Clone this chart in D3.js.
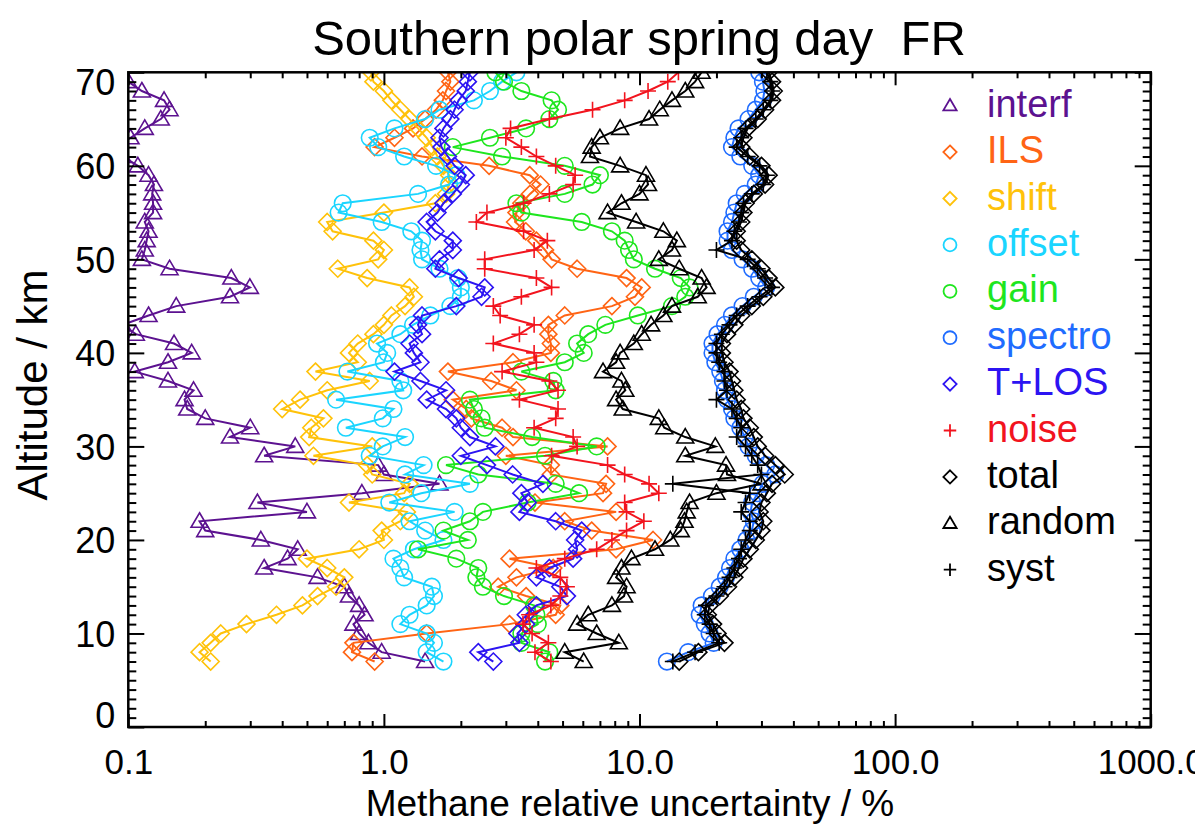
<!DOCTYPE html>
<html>
<head>
<meta charset="utf-8">
<script src="https://cdn.jsdelivr.net/npm/d3@7"></script>
<style>
  body { margin: 0; background: #fff; }
  svg { display: block; font-family: "Liberation Sans", Arial, Helvetica, sans-serif; }
</style>
</head>
<body>
<svg id="chart" width="1195" height="828"></svg>
<script>
// Altitude grid (km), bottom to top
const altitude = [7,8,9,10,11,12,13,14,15,16,17,18,19,20,21,22,23,24,25,26,27,28,29,30,31,32,33,34,35,36,37,38,39,40,41,42,43,44,45,46,47,48,49,50,51,52,53,54,55,56,57,58,59,60,61,62,63,64,65,66,67,68,69,70];

// Relative uncertainty (%) of each error component, one value per altitude
const interf = [1.45,0.98,0.87,0.8,0.76,0.84,0.8,0.73,0.70,0.55, 0.34,0.42,0.46,0.33,0.20,0.19,0.5,0.32,0.82,1.65, 1.0,0.95,0.34,0.45,0.25,0.3,0.2,0.17,0.166,0.18, 0.143,0.106,0.143,0.177,0.151,0.107,0.095,0.12,0.154,0.25, 0.299,0.253,0.145,0.113,0.116,0.118,0.12,0.116,0.125,0.125, 0.124,0.126,0.12,0.109,0.095,0.09,0.102,0.116,0.134,0.145, 0.138,0.113,0.1,0.088];
const ils = [0.92,0.75,0.76,1.47,3.1,4.7,4.9,3.6,2.8,3.3, 4.6,3.1,8.1,11.3,6.5,5.1,8.1,3.9,7.2,7.4, 4.5,4.5,3.0,7.5,3.2,2.9,2.2,2.1,1.86,3.3, 2.63,1.78,3.2,4.5,4.5,4.4,4.4,5.1,7.8,9.6, 10.2,8.9,5.7,4.53,4.27,3.95,3.59,3.26,3.3,3.45, 3.73,4.1,3.72,2.58,1.41,0.92,1.1,1.3,1.45,1.6, 1.7,1.75,1.82,1.78];
const shift = [0.21,0.19,0.21,0.23,0.29,0.38,0.48,0.55,0.65,0.7, 0.6,0.5,0.8,1.0,0.98,1.16,1.23,0.73,1.2,1.26, 0.9,0.86,0.53,0.9,0.51,0.52,0.58,0.4,0.47,0.6, 0.88,0.54,0.79,0.73,0.79,0.91,1.0,1.07,1.21,1.31, 1.26,0.86,0.66,0.95,1.0,0.91,0.63,0.6,1.0,1.59, 1.75,1.8,1.8,1.71,1.62,1.55,1.47,1.36,1.26,1.16, 1.07,1.0,0.91,0.89];
const offset = [1.71,1.47,1.57,1.47,1.16,1.26,1.47,1.57,1.54,1.2, 1.16,1.09,1.31,1.71,1.45,1.26,1.89,1.05,1.4,2.17, 1.21,1.43,0.88,0.99,1.21,0.71,0.99,1.09,0.65,1.19, 1.16,0.72,1.0,1.03,0.94,1.16,1.3,1.52,1.82,2.0, 2.0,1.95,1.65,1.41,1.39,1.41,1.28,0.98,0.665,0.69, 1.36,1.8,1.92,1.6,1.2,0.95,0.88,1.1,1.45,1.65, 2.25,2.6,2.9,3.3];
const gain = [4.27,4.44,3.45,3.45,4.0,3.95,3.87,2.95,2.44,2.3, 2.34,1.92,1.36,2.13,1.71,2.17,2.44,3.65,5.8,4.7, 2.34,1.75,4.27,6.8,3.8,2.48,2.41,2.25,2.17,4.7, 4.6,3.45,5.1,6.05,5.7,6.3,7.35,9.85,13.4,15.1, 15.7,14.5,11.5,9.5,9.1,8.75,7.8,5.94,3.45,3.3, 5.1,6.55,7.0,5.1,2.9,1.86,2.6,3.6,4.44,4.8, 4.53,3.45,2.95,2.73];
const spectro = [12.8,15.5,19.5,18.8,18,17.2,17.5,19.2,20.6,21.8, 22.6,23.5,24.8,26.2,27.5,28,27.2,27.6,29,30.3, 34,31.3,28.5,26.7,25.8,24.8,23.5,23,22,21.6, 21.2,20.7,19.8,19.3,19.3,20.2,21.6,23,25.3,28, 31.3,29.4,27.6,25.3,23,22.1,22.1,23,23.5,24, 25.8,28.5,29.4,27.6,24.8,23,23.5,24.4,26.7,28.5, 30.4,30.8,30.4,29.4];
const tlos = [2.68,2.34,3.39,3.33,3.6,3.59,3.95,5.2,4.9,3.95, 4.44,5.5,5.7,5.6,5.94,4.7,3.39,3.65,3.45,4.19, 3.19,2.53,2.0,2.73,2.17,2.0,1.92,1.75,1.47,1.75, 1.39,1.1,1.39,1.31,1.26,1.41,1.36,1.41,1.92,2.41, 2.48,1.96,1.59,1.65,1.86,1.86,1.59,1.47,1.62,1.71, 1.86,2.0,2.09,1.89,1.78,1.68,1.65,1.71,1.82,1.89, 1.96,2.09,2.13,2.17];
const noise = [4.5,3.9,4.4,3.8,3.5,3.7,4.5,4.9,5.2,4.9, 3.95,5.1,6.8,7.8,8.9,10.4,8.9,8.75,11.9,10.9, 8.75,7.5,4.53,5.7,5.5,3.87,4.7,4.8,3.39,4.8, 4.44,2.9,3.95,3.87,2.68,3.39,3.87,2.85,2.68,3.45, 4.53,3.95,2.48,2.48,3.87,4.36,3.52,2.3,2.53,3.52, 4.44,5.5,5.6,4.7,3.95,3.45,3.0,3.13,4.44,6.55, 8.75,10.8,12.9,14.2];
const total = [14.3,17,21.5,20.2,19.4,18.5,18.8,20.6,22.2,23.5, 24.5,25.5,27,28.5,30,30.5,29.5,30,31.5,33, 37,34,31,29,28,27,25.5,25,24,23.5, 23,22.5,21.5,21,21,22,23.5,25,27.5,30.5, 34,32,30,27.5,25,24,24,25,25.5,26, 28,31,32,30,27,25,25.5,26.5,29,31, 33,33.5,33,32];
const random = [6.05,5.1,8.3,6.8,5.7,6.3,7.8,8.7,8.9,8.1, 8.5,9.3,11.5,13.2,14.5,15,15.3,15.7,20,30, 22,21.8,15.1,19.8,15.1,12.5,11.9,8.6,8.1,8.8, 8.5,7.2,8.1,8.4,9.5,10.2,11.1,12.4,13.4,16.9, 18.3,17.5,14.3,11.9,13.4,14,12.4,9.7,7.5,8.5, 10,10.8,10.6,8.4,6.4,6.5,7,8.4,10.9,12, 13.4,15.1,16.5,17.5];
const syst = [13.5,16.5,20.5,19.5,18.8,18,18.2,20,21.5,22.5, 23.5,24.5,25,26,27,27,25,26,27,13.5, 30,29,27.5,26,24,25,24,23,20,22, 21.5,21.5,20.5,20,20,21,22.5,24,26.5,29.5, 33,31,29,26.5,20,23,23.5,24.5,25,25.5, 27.5,30.5,31.5,29.5,26.5,24,25,26,28.5,30.5, 32.5,33,32.5,31.5];

// Axis tick values and labels
const xTickValues = [0.1, 1, 10, 100, 1000];
const xTickLabels = ["0.1", "1.0", "10.0", "100.0", "1000.0"];
const yTickValues = [0, 10, 20, 30, 40, 50, 60, 70];

const series = [
  { name: "interf",  values: interf,  color: "#5c1290", symbol: "triangle" },
  { name: "ILS",     values: ils,     color: "#ff6414", symbol: "diamond" },
  { name: "shift",   values: shift,   color: "#ffc20a", symbol: "diamond" },
  { name: "offset",  values: offset,  color: "#1ad5ff", symbol: "circle" },
  { name: "gain",    values: gain,    color: "#1ee61e", symbol: "circle" },
  { name: "spectro", values: spectro, color: "#1f6cff", symbol: "circle" },
  { name: "T+LOS",   values: tlos,    color: "#2c14f2", symbol: "diamond" },
  { name: "noise",   values: noise,   color: "#f2141e", symbol: "plus" },
  { name: "total",   values: total,   color: "#000000", symbol: "diamond" },
  { name: "random",  values: random,  color: "#000000", symbol: "triangle" },
  { name: "syst",    values: syst,    color: "#000000", symbol: "plus" }
];

const svg = d3.select("#chart");
const plot = { left: 128.3, right: 1150.7, top: 72.3, bottom: 727 };

const x = d3.scaleLog().domain([0.1, 1000]).range([plot.left, plot.right]);
const y = d3.scaleLinear().domain([0, 70]).range([plot.bottom, plot.top]);

svg.append("rect").attr("width", 1195).attr("height", 828).attr("fill", "#fff");

svg.append("defs").append("clipPath").attr("id", "plotClip")
  .append("rect")
  .attr("x", plot.left).attr("y", plot.top)
  .attr("width", plot.right - plot.left).attr("height", plot.bottom - plot.top);

// Outline marker shapes, centred on (0,0); k scales them
function markerPath(type, k) {
  const s = k;
  switch (type) {
    case "triangle": return `M0,${-8.5*s}L${8.5*s},${6*s}L${-8.5*s},${6*s}Z`;
    case "diamond":  return `M0,${-8.5*s}L${8.5*s},0L0,${8.5*s}L${-8.5*s},0Z`;
    case "plus":     return `M${-8*s},0H${8*s}M0,${-8*s}V${8*s}`;
    default: {
      const r = 8.3 * s;
      return `M${r},0A${r},${r} 0 1,1 ${-r},0A${r},${r} 0 1,1 ${r},0Z`;
    }
  }
}

const dataLayer = svg.append("g").attr("clip-path", "url(#plotClip)");
const line = d3.line().x(d => x(d.v)).y(d => y(d.h));

series.forEach(s => {
  const pts = altitude.map((h, i) => ({ h: h, v: s.values[i] }));
  const g = dataLayer.append("g");
  g.append("path")
    .attr("d", line(pts))
    .attr("fill", "none")
    .attr("stroke", s.color)
    .attr("stroke-width", 2);
  g.selectAll("path.m").data(pts).join("path")
    .attr("class", "m")
    .attr("transform", d => `translate(${x(d.v)},${y(d.h)})`)
    .attr("d", markerPath(s.symbol, 1))
    .attr("fill", "none")
    .attr("stroke", s.color)
    .attr("stroke-width", 1.6);
});

// Axes: ticks point inward, decade majors and log minors on x, km minors on y
const minorX = [];
[0.1, 1, 10, 100].forEach(d => { for (let m = 2; m <= 9; m++) minorX.push(d * m); });
const minorY = d3.range(0, 71).filter(v => v % 10 !== 0);

function styleAxis(g) {
  g.select(".domain").remove();
  g.selectAll(".tick line").attr("stroke", "#000").attr("stroke-width", 2);
}

const axisColor = "#000";
// bottom
svg.append("g").attr("transform", `translate(0,${plot.bottom})`)
  .call(d3.axisBottom(x).tickValues(minorX).tickSize(-6).tickFormat(""))
  .call(styleAxis);
const xb = svg.append("g").attr("transform", `translate(0,${plot.bottom})`)
  .call(d3.axisBottom(x).tickValues(xTickValues).tickSize(-13)
    .tickFormat((d, i) => xTickLabels[i]))
  .call(styleAxis);
xb.selectAll(".tick text")
  .attr("y", 47).attr("dy", null)
  .attr("font-size", 35).attr("fill", axisColor)
  .attr("font-family", '"Liberation Sans", Arial, sans-serif');
// top
svg.append("g").attr("transform", `translate(0,${plot.top})`)
  .call(d3.axisTop(x).tickValues(minorX).tickSize(-6).tickFormat(""))
  .call(styleAxis);
svg.append("g").attr("transform", `translate(0,${plot.top})`)
  .call(d3.axisTop(x).tickValues(xTickValues).tickSize(-13).tickFormat(""))
  .call(styleAxis);
// left
svg.append("g").attr("transform", `translate(${plot.left},0)`)
  .call(d3.axisLeft(y).tickValues(minorY).tickSize(-8).tickFormat(""))
  .call(styleAxis);
const yl = svg.append("g").attr("transform", `translate(${plot.left},0)`)
  .call(d3.axisLeft(y).tickValues(yTickValues).tickSize(-16).tickFormat(d3.format("d")))
  .call(styleAxis);
yl.selectAll(".tick text")
  .attr("x", -13).attr("dy", null)
  .attr("y", d => d === 0 ? 0 : (d === 70 ? 22 : 13))
  .attr("font-size", 36).attr("fill", axisColor)
  .attr("font-family", '"Liberation Sans", Arial, sans-serif');
// right
svg.append("g").attr("transform", `translate(${plot.right},0)`)
  .call(d3.axisRight(y).tickValues(minorY).tickSize(-8).tickFormat(""))
  .call(styleAxis);
svg.append("g").attr("transform", `translate(${plot.right},0)`)
  .call(d3.axisRight(y).tickValues(yTickValues).tickSize(-16).tickFormat(""))
  .call(styleAxis);

// Frame
svg.append("rect")
  .attr("x", plot.left).attr("y", plot.top)
  .attr("width", plot.right - plot.left).attr("height", plot.bottom - plot.top)
  .attr("fill", "none").attr("stroke", "#000").attr("stroke-width", 2.5);

// Titles
svg.append("text")
  .attr("x", 639).attr("y", 55)
  .attr("text-anchor", "middle")
  .attr("font-size", 49)
  .style("white-space", "pre")
  .text("Southern polar spring day  FR");

svg.append("text")
  .attr("x", 630).attr("y", 816)
  .attr("text-anchor", "middle")
  .attr("font-size", 37)
  .text("Methane relative uncertainty / %");

svg.append("text")
  .attr("transform", "translate(47,385) rotate(-90)")
  .attr("text-anchor", "middle")
  .attr("font-size", 42)
  .text("Altitude / km");

// Legend
const legend = svg.append("g");
series.forEach((s, i) => {
  const base = 116.7 + 46.4 * i;
  legend.append("path")
    .attr("transform", `translate(950,${base - 11})`)
    .attr("d", markerPath(s.symbol, 0.78))
    .attr("fill", "none")
    .attr("stroke", s.color)
    .attr("stroke-width", 1.8);
  legend.append("text")
    .attr("x", 987).attr("y", base)
    .attr("font-size", 38)
    .attr("fill", s.color)
    .text(s.name);
});
</script>
</body>
</html>
